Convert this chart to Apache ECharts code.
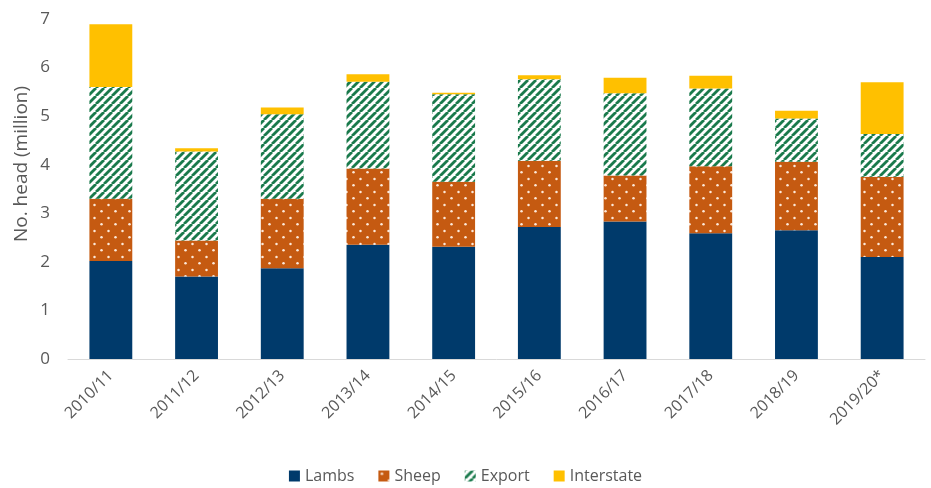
<!DOCTYPE html>
<html>
<head>
<meta charset="utf-8">
<script src="https://cdn.jsdelivr.net/npm/echarts@6/dist/echarts.min.js"></script>
<style>
  html, body { margin: 0; padding: 0; background: #fff; }
  #chart { width: 931px; height: 488px; }
</style>
</head>
<body>
<div id="chart"></div>
<script>
// Season labels
const seasons = ['2010/11', '2011/12', '2012/13', '2013/14', '2014/15',
                 '2015/16', '2016/17', '2017/18', '2018/19', '2019/20*'];

// Head counts, millions
const lambs      = [2.02, 1.70, 1.87, 2.35, 2.31, 2.72, 2.83, 2.59, 2.65, 2.10];
const sheep      = [1.28, 0.74, 1.43, 1.57, 1.34, 1.36, 0.95, 1.38, 1.41, 1.65];
const exportHead = [2.30, 1.83, 1.74, 1.79, 1.80, 1.68, 1.69, 1.60, 0.89, 0.88];
const interstate = [1.29, 0.07, 0.14, 0.15, 0.03, 0.08, 0.32, 0.26, 0.16, 1.07];

// Y axis ticks
const yTicks = { min: 0, max: 7, interval: 1 };

// Fill patterns: white dots on orange, green diagonal hatching on white
function dotPattern() {
  const w = 14, h = 13.4;
  const c = document.createElement('canvas');
  c.width = w; c.height = Math.round(h);
  const g = c.getContext('2d');
  g.fillStyle = '#C55A11';
  g.fillRect(0, 0, c.width, c.height);
  g.fillStyle = '#FCE9DA';
  [[3.5, 3.3], [10.5, 10]].forEach(([x, y]) => {
    g.beginPath(); g.arc(x, y, 1.25, 0, Math.PI * 2); g.fill();
  });
  return { image: c, repeat: 'repeat' };
}
function stripePattern() {
  const s = 8;
  const c = document.createElement('canvas');
  c.width = s; c.height = s;
  const g = c.getContext('2d');
  g.fillStyle = '#ffffff';
  g.fillRect(0, 0, s, s);
  g.strokeStyle = '#1A7A4C';
  g.lineWidth = 2.8;
  for (let k = -1; k <= 1; k++) {
    g.beginPath();
    g.moveTo(k * s, s);
    g.lineTo(k * s + s, 0);
    g.stroke();
  }
  return { image: c, repeat: 'repeat' };
}

const font = 'Open Sans, sans-serif';
const grey = '#595959';

const chart = echarts.init(document.getElementById('chart'), null, { renderer: 'canvas' });

function barSeries(name, data, color) {
  return {
    name, type: 'bar', stack: 'total', data,
    barWidth: '50%',
    itemStyle: { color },
    emphasis: { disabled: true }
  };
}

chart.setOption({
  animation: false,
  grid: { left: 68, right: 6, top: 19, bottom: 129, containLabel: false },
  graphic: [{
    type: 'text',
    x: 22, y: 164,
    rotation: Math.PI / 2,
    style: {
      text: 'No. head (million)',
      fill: grey, font: '19px ' + font,
      textAlign: 'center', textVerticalAlign: 'middle'
    }
  }],
  legend: {
    top: 468,
    left: 'center',
    padding: 0,
    itemWidth: 11,
    itemHeight: 11,
    itemGap: 24,
    icon: 'rect',
    textStyle: { color: grey, fontFamily: font, fontSize: 16 },
    data: ['Lambs', 'Sheep', 'Export', 'Interstate']
  },
  xAxis: {
    type: 'category',
    data: seasons,
    axisLine: { lineStyle: { color: '#D9D9D9', width: 1 } },
    axisTick: { show: false },
    axisLabel: { rotate: 45, color: grey, fontFamily: font, fontSize: 16, margin: 14, interval: 0 }
  },
  yAxis: {
    type: 'value',
    min: yTicks.min, max: yTicks.max, interval: yTicks.interval,
    axisLine: { show: false },
    axisTick: { show: false },
    splitLine: { show: false },
    axisLabel: { color: grey, fontFamily: font, fontSize: 17, margin: 18 }
  },
  series: [
    barSeries('Lambs', lambs, '#003A6B'),
    barSeries('Sheep', sheep, dotPattern()),
    barSeries('Export', exportHead, stripePattern()),
    barSeries('Interstate', interstate, '#FFC000')
  ]
});
</script>
</body>
</html>
